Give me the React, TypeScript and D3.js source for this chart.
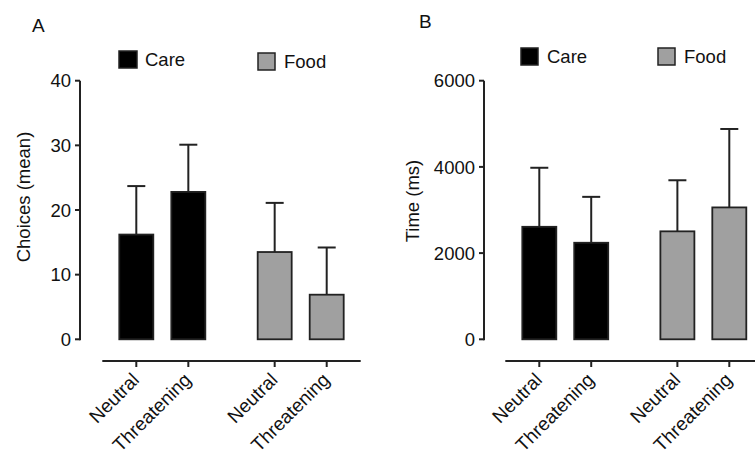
import React from "react";
import * as d3 from "d3";

// conditions, in drawing order
const categories = ["Neutral", "Threatening", "Neutral", "Threatening"];
const groups = ["Care", "Care", "Food", "Food"];
const groupNames = ["Care", "Food"];

// panel A: choices (mean) and SD
const choicesMean = [16.2, 22.8, 13.5, 6.9];
const choicesSd = [7.5, 7.3, 7.6, 7.3];
const choicesTicks = [0, 10, 20, 30, 40];

// panel B: time (ms) and SD
const timeMean = [2610, 2240, 2505, 3060];
const timeSd = [1370, 1065, 1185, 1820];
const timeTicks = [0, 2000, 4000, 6000];

const groupColor: Record<string, string> = { Care: "#000000", Food: "#a0a0a0" };
const font = "'Liberation Sans', Arial, sans-serif";
const stroke = "#222";
const fs = 18.5;

type PanelProps = {
  letter: string;
  letterPos: [number, number];
  yLabel: string;
  yLabelPos: [number, number];
  means: number[];
  sds: number[];
  ticks: number[];
  axisX: number;
  xRange: [number, number];
  legend: { x: number; y: number; w: number; tx: number; ty: number }[];
};

function Panel(p: PanelProps) {
  const yMax = p.ticks[p.ticks.length - 1];
  const y = d3.scaleLinear().domain([0, yMax]).range([339.3, 80.7]);
  // slots: two groups with a gap between them
  const slot = (i: number) => i + groupNames.indexOf(groups[i]) * 0.66;
  const x = d3.scaleLinear().domain([slot(0), slot(3)]).range(p.xRange);
  const barW = 34;
  const xAxisY = 361;
  const pad = 34;

  return (
    <g fontFamily={font}>
      <text x={p.letterPos[0]} y={p.letterPos[1]} fontSize={19} fill="#111">{p.letter}</text>

      {/* legend */}
      {groupNames.map((g, i) => {
        const l = p.legend[i];
        return (
          <g key={g}>
            <rect x={l.x} y={l.y} width={l.w} height={17} fill={groupColor[g]}
              stroke={stroke} strokeWidth={1.5} />
            <text x={l.tx} y={l.ty} fontSize={fs} fill="#111">{g}</text>
          </g>
        );
      })}

      {/* y axis */}
      <line x1={p.axisX} x2={p.axisX} y1={y(0) + 1} y2={y(yMax)} stroke={stroke} strokeWidth={2} />
      {p.ticks.map((t) => (
        <g key={t}>
          <line x1={p.axisX - 5} x2={p.axisX} y1={y(t)} y2={y(t)} stroke={stroke} strokeWidth={2} />
          <text x={p.axisX - 9} y={y(t)} dy="0.36em" textAnchor="end" fontSize={fs} fill="#111">{t}</text>
        </g>
      ))}
      <text transform={`translate(${p.yLabelPos[0]},${p.yLabelPos[1]}) rotate(-90)`} textAnchor="middle"
        fontSize={fs} fill="#111">{p.yLabel}</text>

      {/* error bars */}
      {p.means.map((m, i) => (
        <g key={"e" + i}>
          <line x1={x(slot(i))} x2={x(slot(i))} y1={y(m)} y2={y(m + p.sds[i])} stroke={stroke} strokeWidth={2} />
          <line x1={x(slot(i)) - 9} x2={x(slot(i)) + 9} y1={y(m + p.sds[i])} y2={y(m + p.sds[i])}
            stroke={stroke} strokeWidth={2} />
        </g>
      ))}

      {/* bars */}
      {p.means.map((m, i) => (
        <rect key={"b" + i} x={x(slot(i)) - barW / 2} y={y(m)} width={barW} height={y(0) - y(m)}
          fill={groupColor[groups[i]]} stroke={stroke} strokeWidth={1.8} />
      ))}

      {/* x axis */}
      <line x1={p.xRange[0] - pad} x2={p.xRange[1] + pad} y1={xAxisY} y2={xAxisY} stroke={stroke} strokeWidth={2} />
      {categories.map((c, i) => (
        <g key={"x" + i}>
          <line x1={x(slot(i))} x2={x(slot(i))} y1={xAxisY} y2={xAxisY + 6} stroke={stroke} strokeWidth={2} />
          <text transform={`translate(${x(slot(i)) + 4},${xAxisY + 20}) rotate(-45)`} textAnchor="end"
            fontSize={19} fill="#111">{c}</text>
        </g>
      ))}
    </g>
  );
}

export default function App() {
  return (
    <svg width={755} height={452} style={{ position: "absolute", left: 0, top: 0, background: "#fff" }}>
      <Panel letter="A" letterPos={[32, 32]} yLabel="Choices (mean)" yLabelPos={[30, 197]}
        means={choicesMean} sds={choicesSd} ticks={choicesTicks} axisX={80}
        xRange={[136.3, 326.7]}
        legend={[
          { x: 119, y: 51, w: 18, tx: 145, ty: 66 },
          { x: 258, y: 53, w: 17, tx: 284, ty: 68 },
        ]} />
      <Panel letter="B" letterPos={[419, 28]} yLabel="Time (ms)" yLabelPos={[419, 201]}
        means={timeMean} sds={timeSd} ticks={timeTicks} axisX={484}
        xRange={[539.3, 729.3]}
        legend={[
          { x: 521, y: 48, w: 17, tx: 547, ty: 63 },
          { x: 658, y: 48, w: 17, tx: 684, ty: 63 },
        ]} />
    </svg>
  );
}
